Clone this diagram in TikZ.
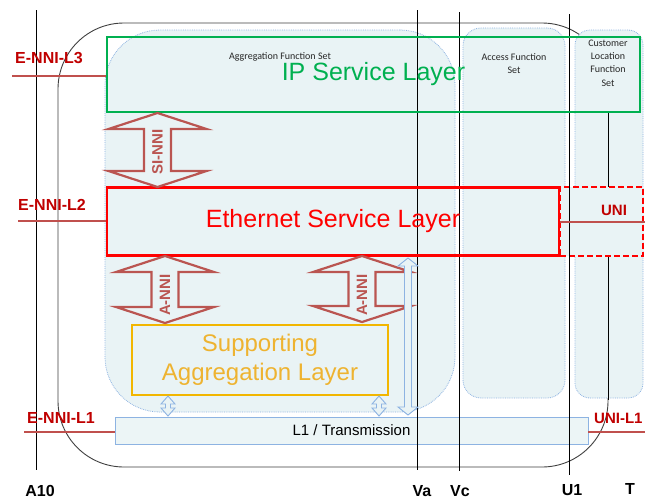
\documentclass[tikz,border=0pt]{standalone}
\usepackage{fontspec}
\setmainfont{Liberation Sans}
\newfontfamily\calib{Carlito}
\definecolor{fsfill}{HTML}{E9F3F5}
\definecolor{fsborder}{HTML}{8DB3E2}
\definecolor{ipgreen}{HTML}{00B050}
\definecolor{ethred}{HTML}{FF0000}
\definecolor{supgold}{HTML}{F2B600}
\definecolor{suptext}{HTML}{EEB330}
\definecolor{nnitext}{HTML}{C00000}
\definecolor{nniline}{HTML}{C0504D}
\definecolor{arrowred}{HTML}{BA5551}
\definecolor{outergray}{HTML}{404040}
\newcommand\BlkArrow[3]{%
  \draw[blockarrow] (#1,#2) -- ++(49,16) -- ++(-35.5,0) -- (#1+13.5,#3-16) -- ++(35.5,0)
    -- (#1,#3) -- ++(-49,-16) -- ++(35.5,0) -- (#1-13.5,#2+16) -- ++(-35.5,0) -- cycle;}
\newcommand\ThinArrow[5]{% cx, top, bottom, head half width, shaft half width
  \draw[thinarrow] (#1,#2) -- ++(#4,8) -- (#1+#5,#2+8) -- (#1+#5,#3-8) -- (#1+#4,#3-8)
    -- (#1,#3) -- (#1-#4,#3-8) -- (#1-#5,#3-8) -- (#1-#5,#2+8) -- (#1-#4,#2+8) -- cycle;}
\begin{document}
\begin{tikzpicture}[x=1pt,y=-1pt,
  fset/.style={draw=fsborder, densely dotted, line width=0.8, fill=fsfill, inner sep=0},
  outerline/.style={draw=outergray, line width=0.9},
  vline/.style={draw=black, line width=0.9},
  smalltxt/.style={font=\calib\fontsize{10}{13.3}\selectfont, text=black!85, align=center, inner sep=0},
  ipbox/.style={draw=ipgreen, line width=2.8, inner sep=0, text=ipgreen, font=\fontsize{25}{30}\selectfont},
  ethbox/.style={draw=ethred, line width=2.8, inner sep=0, text=ethred, font=\fontsize{25}{30}\selectfont},
  supbox/.style={draw=supgold, line width=2.4, inner sep=0, text=suptext, align=center, font=\fontsize{24}{30}\selectfont},
  unibox/.style={draw=ethred, line width=2.4, dash pattern=on 6pt off 3pt, fill=fsfill, inner sep=0},
  l1box/.style={draw=fsborder, line width=0.9, fill=fsfill!85!white, inner sep=0, font=\fontsize{15}{18}\selectfont},
  nnilbl/.style={text=nnitext, font=\bfseries\fontsize{16}{18}\selectfont, inner sep=0},
  nniline/.style={draw=nniline, line width=1.8},
  reflbl/.style={text=black, font=\bfseries\fontsize{16}{18}\selectfont, inner sep=0},
  blockarrow/.style={draw=arrowred, line width=2.2, fill=fsfill, line join=miter},
  arrowlbl/.style={text=arrowred, font=\bfseries\fontsize{15}{18}\selectfont, rotate=90, inner sep=0},
  thinarrow/.style={draw=fsborder, line width=0.9, fill=fsfill}
]
\useasboundingbox (0,0) rectangle (645,501);
\fill[white] (0,0) rectangle (645,501);

% outer domain
\draw[outerline, rounded corners=66] (58,23) rectangle (608,467);

% function sets
\node[fset, rounded corners=55, minimum width=350, minimum height=382] (agg) at (280,221) {};
\node[fset, rounded corners=18, minimum width=102, minimum height=370] (acc) at (514,213) {};
\node[fset, rounded corners=15, minimum width=68, minimum height=368] (cust) at (609,214) {};
\node[smalltxt] (aggt) at (280,57) {Aggregation Function Set};
\node[smalltxt] (acct) at (514,63.5) {Access Function\\Set};
\node[smalltxt] (custt) at (608,63) {Customer\\Location\\Function\\Set};

% connector customer -> UNI
\coordinate (cl) at (608,400);
\draw[vline] (608,112) -- (cl);

% UNI and L1 boxes
\node[unibox, minimum width=83, minimum height=69] (uni) at (601.5,221.5) {};
\node[l1box, minimum width=473, minimum height=27] (l1) at (351.5,430.5) {L1 / Transmission};

% reference-point lines
\coordinate (a10t) at (36,10);  \coordinate (a10b) at (36,470);
\coordinate (vat) at (417,10);  \coordinate (vab) at (417,470);
\coordinate (vct) at (459,12);  \coordinate (vcb) at (459,471);
\coordinate (u1t) at (569,14);  \coordinate (u1b) at (569,475);
\draw[vline] (a10t) -- (a10b);
\draw[vline] (vat) -- (vab);
\draw[vline] (vct) -- (vcb);
\draw[vline] (u1t) -- (u1b);
\node[reflbl] (a10) at (40,491) {A10};
\node[reflbl] (va) at (422,491) {Va};
\node[reflbl] (vc) at (460,491) {Vc};
\node[reflbl] (u1) at (572,490) {U1};
\node[reflbl] (t) at (630,489) {T};

% layers
\node[ipbox, minimum width=533, minimum height=75] (ip) at (373.5,74.5) {IP Service Layer};
\node[ethbox, minimum width=452, minimum height=68] (eth) at (333,221.5) {Ethernet Service Layer};
\node[supbox, minimum width=256, minimum height=70] (sup) at (260,360) {Supporting\\[-1pt]Aggregation Layer};
\node[text=nnitext, font=\bfseries\fontsize{15}{18}\selectfont, inner sep=0] (unit) at (614,210) {UNI};

% interface lines and labels
\coordinate (l3) at (12,76);
\coordinate (l2) at (18,221);
\coordinate (l1l) at (24,432);
\coordinate (ur) at (645,432);
\coordinate (unr) at (645,222);
\draw[nniline] (l3) -- (l3 -| ip.west);
\draw[nniline] (l2) -- (l2 -| eth.west);
\draw[nniline] (l1l) -- (l1l -| l1.west);
\draw[nniline] (ur) -- (ur -| l1.east);
\draw[nniline] (unr) -- (unr -| eth.east);
\node[nnilbl] (e3) at (49,58) {E-NNI-L3};
\node[nnilbl] (e2) at (52,205) {E-NNI-L2};
\node[nnilbl] (e1) at (61,418) {E-NNI-L1};
\node[nnilbl, anchor=west, font=\bfseries\fontsize{15}{18}\selectfont] (ul1) at (594,418) {UNI-L1};

% block arrows between layers
\BlkArrow{157.5}{113}{187}
\node[arrowlbl] (sinni) at (157.5,152) {SI-NNI};
\BlkArrow{165}{256}{323}
\node[arrowlbl] (anni1) at (165,295) {A-NNI};
\BlkArrow{362}{256}{322}
\node[arrowlbl] (anni2) at (362,295) {A-NNI};

% thin transport arrows
\ThinArrow{168}{396}{416}{7}{2.5}
\ThinArrow{379}{396}{416}{7}{2.5}
\ThinArrow{408}{258}{415}{10}{3.5}
\end{tikzpicture}
\end{document}
